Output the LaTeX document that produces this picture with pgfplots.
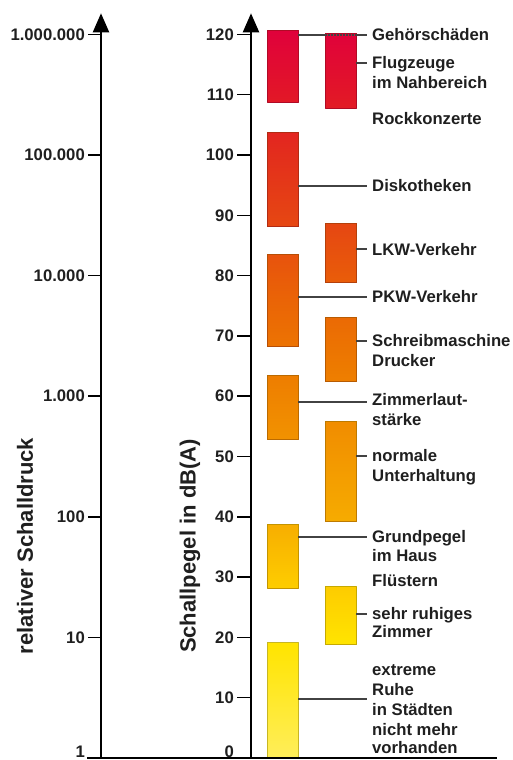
\documentclass[border=0pt]{standalone}
\usepackage{fontspec}
\setmainfont{Liberation Sans}
\usepackage{pgfplots}
\pgfplotsset{compat=1.18}
\usetikzlibrary{arrows.meta}

\definecolor{ln}{HTML}{424242}
\newcommand\lab{\fontsize{16.7}{19}\selectfont\bfseries}
\newcommand\axlab{\fontsize{22}{26}\selectfont\bfseries}

\tikzset{txt/.style={font=\lab, text=black!88, anchor=west, inner sep=0pt, text height=12pt, text depth=0pt}}

\pgfplotsset{
  colormap={laerm}{rgb255(0pt)=(255,238,90) rgb255(19pt)=(255,228,0)
    rgb255(30pt)=(253,200,0) rgb255(40pt)=(246,170,0) rgb255(55pt)=(241,142,0)
    rgb255(65pt)=(237,122,0) rgb255(76pt)=(234,100,6) rgb255(88pt)=(230,72,18)
    rgb255(100pt)=(227,46,28) rgb255(110pt)=(226,22,40) rgb255(121pt)=(224,0,60)},
  skala/.style={
    scale only axis, height=744.7pt,
    axis x line=none, axis y line=left,
    y axis line style={line width=2.2pt},
    every outer y axis line/.append style={-{Triangle[width=16pt,length=19pt]}},
    ytick align=outside, major tick length=13pt,
    ytick style={line width=1.5pt, black},
    tick label style={font=\lab, text=black!88},
    yticklabel style={inner sep=0pt, xshift=-3pt},
    ylabel style={font=\axlab, text=black!88, anchor=center},
  },
}

\begin{document}
\begin{tikzpicture}
\useasboundingbox (0,0) rectangle (512pt,760pt);

% relativer Schalldruck (log)
\begin{axis}[skala,
  at={(101pt,2pt)}, anchor=south west, width=20pt,
  xmin=0, xmax=1, ymode=log, ymin=1, ymax=1496236,
  yminorticks=false,
  ytick={1,10,100,1000,10000,100000,1000000},
  yticklabels={\raisebox{6pt}[\height][\depth]{1},10,100,1.000,10.000,100.000,1.000.000},
  ylabel={relativer Schalldruck},
  ylabel style={at={(axis description cs:-3.8,0.2847)}},
]
\addplot[draw=none] coordinates {(0,1)};
\end{axis}

% Schallpegel in dB(A)
\begin{axis}[skala,
  at={(251pt,2pt)}, anchor=south west, width=261pt,
  xmin=251, xmax=512, ymin=0, ymax=123.5, clip=false,
  major tick length=14pt,
  ytick={0,10,20,30,40,50,60,70,80,90,100,110,120},
  yticklabels={\raisebox{6pt}[\height][\depth]{0},10,20,30,40,50,60,70,80,90,100,110,120},
  ylabel={Schallpegel in dB(A)},
  ylabel style={at={(axis description cs:-0.2337,0.2847)}},
  colormap name=laerm, point meta min=0, point meta max=121,
]
% Pegelbereiche: linke Spalte
\addplot[patch, patch type=rectangle, shader=faceted interp, point meta=y,
  faceted color=mapped color!78!black, line width=0.7pt] coordinates {
  (267,108.8) (298,108.8) (298,120.7) (267,120.7)
  (267,88.2) (298,88.2) (298,103.8) (267,103.8)
  (267,68.3) (298,68.3) (298,83.6) (267,83.6)
  (267,52.9) (298,52.9) (298,63.5) (267,63.5)
  (267,28.2) (298,28.2) (298,38.8) (267,38.8)
  (267,0) (298,0) (298,19.1) (267,19.1)
};
% rechte Spalte
\addplot[patch, patch type=rectangle, shader=faceted interp, point meta=y,
  faceted color=mapped color!78!black, line width=0.7pt] coordinates {
  (325,107.8) (356,107.8) (356,120.2) (325,120.2)
  (325,78.8) (356,78.8) (356,88.7) (325,88.7)
  (325,62.5) (356,62.5) (356,73.1) (325,73.1)
  (325,39.2) (356,39.2) (356,55.9) (325,55.9)
  (325,18.9) (356,18.9) (356,28.4) (325,28.4)
};

% Verbindungslinien
\addplot[ln, line width=2pt, unbounded coords=jump] coordinates {
  (298,119.9) (325,119.9) (nan,nan) (356,119.9) (367,119.9) (nan,nan)
  (356,115.3) (367,115.3) (nan,nan)
  (298,94.9) (367,94.9) (nan,nan)
  (356,84.4) (367,84.4) (nan,nan)
  (298,76.5) (367,76.5) (nan,nan)
  (356,69.2) (367,69.2) (nan,nan)
  (298,59.0) (367,59.0) (nan,nan)
  (356,50.1) (367,50.1) (nan,nan)
  (298,36.6) (367,36.6) (nan,nan)
  (356,23.9) (367,23.9) (nan,nan)
  (298,9.8) (367,9.8)
};
\addplot[ln, line width=2pt, densely dotted] coordinates {(325,119.9) (356,119.9)};

% Grundlinie
\addplot[black, line width=2.5pt] coordinates {(87,0) (497,0)};

% Beschriftungen
\node[txt] at (axis cs:372,119.9) {Gehörschäden};
\node[txt] at (axis cs:372,115.3) {Flugzeuge};
\node[txt] at (axis cs:372,112.1) {im Nahbereich};
\node[txt] at (axis cs:372,106.1) {Rockkonzerte};
\node[txt] at (axis cs:372,94.9) {Diskotheken};
\node[txt] at (axis cs:372,84.4) {LKW-Verkehr};
\node[txt] at (axis cs:372,76.5) {PKW-Verkehr};
\node[txt] at (axis cs:372,69.2) {Schreibmaschine};
\node[txt] at (axis cs:372,66.0) {Drucker};
\node[txt] at (axis cs:372,59.4) {Zimmerlaut-};
\node[txt] at (axis cs:372,56.1) {stärke};
\node[txt] at (axis cs:372,50.1) {normale};
\node[txt] at (axis cs:372,46.9) {Unterhaltung};
\node[txt] at (axis cs:372,36.7) {Grundpegel};
\node[txt] at (axis cs:372,33.5) {im Haus};
\node[txt] at (axis cs:372,29.5) {Flüstern};
\node[txt] at (axis cs:372,23.9) {sehr ruhiges};
\node[txt] at (axis cs:372,20.9) {Zimmer};
\node[txt] at (axis cs:372,14.6) {extreme};
\node[txt] at (axis cs:372,11.4) {Ruhe};
\node[txt] at (axis cs:372,8.0) {in Städten};
\node[txt] at (axis cs:372,4.8) {nicht mehr};
\node[txt] at (axis cs:372,1.7) {vorhanden};
\end{axis}
\end{tikzpicture}
\end{document}
